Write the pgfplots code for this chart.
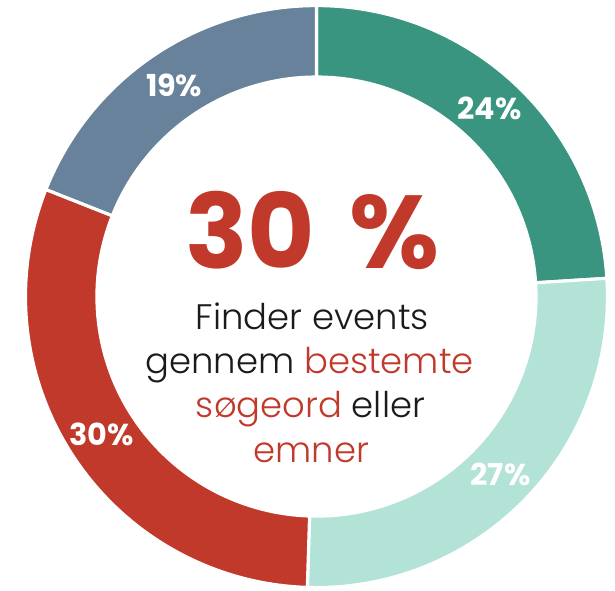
\documentclass[border=0pt]{standalone}
\usepackage{pgfplots}
\pgfplotsset{compat=1.18}
\usepackage{fontspec}
\setmainfont{Poppins}[UprightFont={* Light}, BoldFont={* Bold}]

\definecolor{cteal}{HTML}{3A9580}
\definecolor{cmint}{HTML}{B3E2D7}
\definecolor{cred}{HTML}{C0392B}
\definecolor{cslate}{HTML}{67829A}
\definecolor{ctext}{HTML}{1A1A1A}

% ring radii (1 px = 0.5pt)
\def\Ro{146.2pt}
\def\Ri{110.3pt}
\def\Rd{35.9pt}
% segment: colour, cumulative start (%), share (%)
\newcommand{\seg}[3]{%
  \filldraw[fill=#1, draw=white, line width=1.6pt]
    (axis cs:318,291) ++({90-3.6*(#2)}:\Ro)
    arc[start angle={90-3.6*(#2)}, end angle={90-3.6*(#2+#3)}, radius=\Ro]
    -- ++({270-3.6*(#2+#3)}:\Rd)
    arc[start angle={90-3.6*(#2+#3)}, end angle={90-3.6*(#2)}, radius=\Ri]
    -- cycle;}

\begin{document}
\begin{tikzpicture}
\begin{axis}[
  x=0.5pt, y=0.5pt,
  xmin=0, xmax=615, ymin=0, ymax=589,
  hide axis, clip=false, scale only axis
]
\path (axis cs:0,0) (axis cs:615,589);
% shares: 24, 26.5, 30.5, 19 (clockwise from top)
\seg{cteal}{0}{24}
\seg{cmint}{24}{26.5}
\seg{cred}{50.5}{30.5}
\seg{cslate}{81}{19}

\begin{scope}[every node/.style={text=white, font=\bfseries\fontsize{15.2}{17}\selectfont, anchor=base}]
\node at (axis cs:492,469) {24\%};
\node at (axis cs:503,101) {27\%};
\node at (axis cs:102,141) {30\%};
\node at (axis cs:175,492) {19\%};
\end{scope}

\node[anchor=base, text=cred, font=\bfseries\fontsize{52}{56}\selectfont] at (axis cs:314,319) {30\hspace{0.33em}\%};
\begin{scope}[every node/.style={anchor=base, text=ctext, font=\fontsize{17.8}{21}\selectfont}]
\node at (axis cs:314,258) {Finder events};
\node at (axis cs:311,214) {gennem \textcolor{cred}{bestemte}};
\node at (axis cs:312,169) {\textcolor{cred}{søgeord} eller};
\node at (axis cs:313,124) {\textcolor{cred}{emner}};
\end{scope}
\end{axis}
\end{tikzpicture}
\end{document}
